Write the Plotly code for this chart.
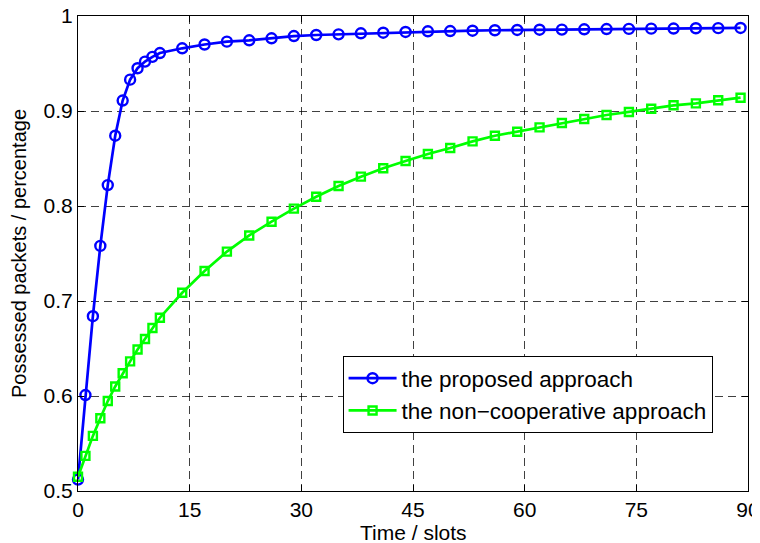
import plotly.graph_objects as go

# Time slots
time_slots = [0, 1, 2, 3, 4, 5, 6, 7, 8, 9, 10, 11,
              14, 17, 20, 23, 26, 29, 32, 35, 38, 41, 44, 47, 50,
              53, 56, 59, 62, 65, 68, 71, 74, 77, 80, 83, 86, 89]

proposed = [0.512, 0.601, 0.684, 0.758, 0.822, 0.874, 0.911, 0.933, 0.945, 0.952, 0.957, 0.961,
            0.966, 0.970, 0.973, 0.9744, 0.9765, 0.9789, 0.9800, 0.9807, 0.9818, 0.9824, 0.9832,
            0.9839, 0.9842, 0.9845, 0.9850, 0.9853, 0.9856, 0.9857, 0.9860, 0.9863, 0.9864,
            0.9867, 0.9868, 0.9871, 0.9872, 0.9874]

non_coop = [0.515, 0.537, 0.558, 0.5765, 0.5947, 0.610, 0.624, 0.6365, 0.649, 0.660, 0.6716, 0.6824,
            0.7087, 0.7316, 0.752, 0.769, 0.7835, 0.7972, 0.8098, 0.821, 0.8309, 0.8397, 0.8474,
            0.8547, 0.861, 0.868, 0.874, 0.8782, 0.8828, 0.8874, 0.8916, 0.8958, 0.899, 0.9024,
            0.906, 0.908, 0.9113, 0.914]

x_ticks = [0, 15, 30, 45, 60, 75, 90]
y_ticks = [0.5, 0.6, 0.7, 0.8, 0.9, 1.0]
y_tick_text = ["0.5", "0.6", "0.7", "0.8", "0.9", "1"]
x_title = "Time / slots"
y_title = "Possessed packets / percentage"

FONT = "Liberation Sans, Arial, sans-serif"

fig = go.Figure()
fig.add_trace(go.Scatter(
    x=time_slots, y=proposed, mode="lines+markers",
    name="the proposed approach",
    line=dict(color="#0000ff", width=2.7),
    marker=dict(symbol="circle-open", size=10, color="#0000ff", line=dict(width=2.4, color="#0000ff")),
    cliponaxis=False,
))
fig.add_trace(go.Scatter(
    x=time_slots, y=non_coop, mode="lines+markers",
    name="the non\u2212cooperative approach",
    line=dict(color="#00ff00", width=2.7),
    marker=dict(symbol="square-open", size=8, color="#00ff00", line=dict(width=2.4, color="#00ff00")),
    cliponaxis=False,
))

axis_common = dict(
    showline=True, linecolor="black", linewidth=1.2, mirror="ticks",
    ticks="inside", ticklen=6, tickcolor="black", tickwidth=1,
    showgrid=True, gridcolor="rgba(0,0,0,0.75)", gridwidth=1, griddash="8px,5px",
    zeroline=False, automargin=False, ticklabeloverflow="allow",
    tickfont=dict(family=FONT, size=21, color="black"),
)

fig.update_xaxes(range=[0, 90], tickvals=x_ticks, **axis_common)
fig.update_yaxes(range=[0.5, 1.0], tickvals=y_ticks, ticktext=y_tick_text,
                 title=dict(text=y_title, font=dict(family=FONT, size=20, color="black"), standoff=16),
                 **axis_common)

fig.add_annotation(text=x_title, xref="paper", yref="paper", x=0.5, y=0,
                   xanchor="center", yanchor="top", yshift=-28, showarrow=False,
                   font=dict(family=FONT, size=21, color="black"))

# The page body has an 8px margin, so the figure is sized to fit the window.
fig.update_layout(
    width=752, height=535,
    margin=dict(l=70, r=12, t=8, b=52),
    paper_bgcolor="white", plot_bgcolor="white",
    showlegend=True,
    legend=dict(x=0.671, y=0.203, xanchor="center", yanchor="middle",
                bgcolor="white", bordercolor="black", borderwidth=1,
                font=dict(family=FONT, size=22.5, color="black"),
                itemwidth=48, tracegroupgap=0),
)

fig.write_html("out.html")
